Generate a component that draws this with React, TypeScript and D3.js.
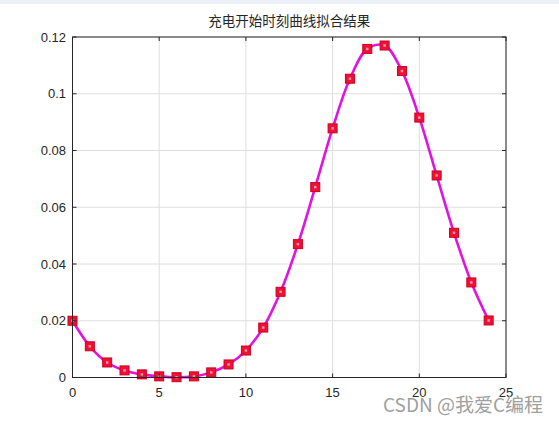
import React from "react";
import * as d3 from "d3";

const hours = [0,1,2,3,4,5,6,7,8,9,10,11,12,13,14,15,16,17,18,19,20,21,22,23,24];
const values = [0.0200,0.0110,0.0053,0.0025,0.0011,0.0004,0.0001,0.0004,0.0018,0.0046,0.0095,0.0176,0.0302,0.0470,0.0671,0.0878,0.1053,0.1158,0.1170,0.1080,0.0916,0.0712,0.0510,0.0335,0.0201];
const xTicks = [0,5,10,15,20,25];
const yTicks = [0,0.02,0.04,0.06,0.08,0.1,0.12];
const yTickLabels = ["0","0.02","0.04","0.06","0.08","0.1","0.12"];
const title = "充电开始时刻曲线拟合结果";
const watermark = "CSDN @我爱C编程";

export default function App() {
  const W = 559, H = 423;
  const L = 72.5, R = 506, T = 37, B = 377.5;
  const x = d3.scaleLinear().domain([0, 25]).range([L, R]);
  const y = d3.scaleLinear().domain([0, 0.12]).range([B, T]);
  const pts = hours.map((h, i) => [h, values[i]] as [number, number]);
  const line = d3.line<[number, number]>().x(d => x(d[0])).y(d => y(d[1])).curve(d3.curveCatmullRom.alpha(0.5));
  const font = "'Liberation Sans', Arial, sans-serif";
  return (
    <svg width={W} height={H} style={{ position: "absolute", left: 0, top: 0, background: "#fff" }}>
      <rect x={0} y={0} width={W} height={H} fill="#ffffff" />
      <rect x={0} y={0} width={W} height={4} fill="#eef0f9" />
      {xTicks.map(t => (
        <line key={"gx" + t} x1={x(t)} x2={x(t)} y1={T} y2={B} stroke="#dedede" strokeWidth={1} />
      ))}
      {yTicks.map(t => (
        <line key={"gy" + t} x1={L} x2={R} y1={y(t)} y2={y(t)} stroke="#dedede" strokeWidth={1} />
      ))}
      <path d={line(pts) || ""} fill="none" stroke="#e014e0" strokeWidth={2.6} />
      {pts.map((p, i) => (
        <g key={"m" + i}>
          <rect x={x(p[0]) - 4.5} y={y(p[1]) - 4.5} width={9} height={9} fill="#ee1133" stroke="#cc0022" strokeWidth={1} />
          <rect x={x(p[0]) - 1.2} y={y(p[1]) - 1.2} width={2.4} height={2.4} fill="#ff9ab8" />
        </g>
      ))}
      <rect x={L} y={T} width={R - L} height={B - T} fill="none" stroke="#262626" strokeWidth={1} />
      {xTicks.map(t => (
        <g key={"tx" + t}>
          <line x1={x(t)} x2={x(t)} y1={B} y2={B - 4} stroke="#262626" />
          <line x1={x(t)} x2={x(t)} y1={T} y2={T + 4} stroke="#262626" />
          <text x={x(t)} y={397} textAnchor="middle" fontFamily={font} fontSize={13} fill="#262626">{t}</text>
        </g>
      ))}
      {yTicks.map((t, i) => (
        <g key={"ty" + t}>
          <line x1={L} x2={L + 4} y1={y(t)} y2={y(t)} stroke="#262626" />
          <line x1={R} x2={R - 4} y1={y(t)} y2={y(t)} stroke="#262626" />
          <text x={66} y={y(t) + 4.5} textAnchor="end" fontFamily={font} fontSize={13} fill="#262626">{yTickLabels[i]}</text>
        </g>
      ))}
      <text x={(L + R) / 2} y={26} textAnchor="middle" fontFamily="'Noto Sans CJK SC', sans-serif" fontSize={13.5} fill="#262626">{title}</text>
      <text x={383} y={412} fontFamily="'Noto Sans CJK SC', 'Liberation Sans', sans-serif" fontSize={19} fill="#a0a0a0">{watermark}</text>
    </svg>
  );
}
